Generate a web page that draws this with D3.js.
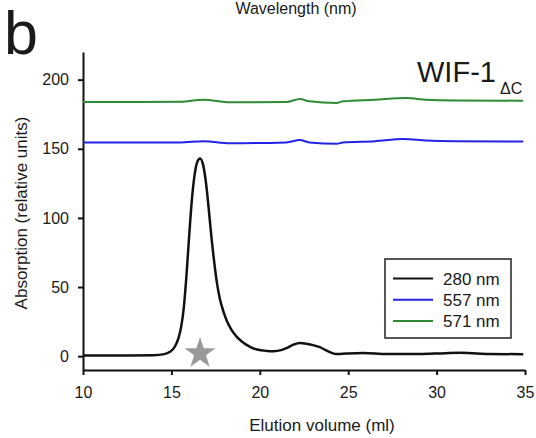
<!DOCTYPE html>
<html><head><meta charset="utf-8">
<script src="https://cdn.jsdelivr.net/npm/d3@7"></script>
<style>
body{margin:0;background:#fff;}
text{font-family:"Liberation Sans",Arial,sans-serif;fill:#1a1a1a;}
</style></head>
<body><svg id="c" width="536" height="438"></svg>
<script>
const xTicks=[10,15,20,25,30,35];
const yTicks=[0,50,100,150,200];
const seriesNames=["280 nm","557 nm","571 nm"];
const seriesColors=["#111111","#2323e6","#2e8b35"];
const abs280=[[10,0.5],[12,0.5],[14,0.7],[14.6,1.5],[14.9,3],[15.2,7],[15.4,13],[15.55,21],[15.7,35],[15.85,58],[16.0,86],[16.15,112],[16.3,130],[16.45,140],[16.62,143],[16.8,138],[16.95,126],[17.1,108],[17.25,88],[17.47,63],[17.6,51],[17.75,41],[17.95,32],[18.15,25],[18.4,19],[18.7,14],[19.0,10.5],[19.45,6.8],[19.85,4.8],[20.4,3.8],[20.8,3.6],[21.2,4.4],[21.5,5.8],[21.9,8.3],[22.27,9.5],[22.7,8.8],[23.0,8.0],[23.4,6.5],[23.7,4.5],[24.0,2.8],[24.35,1.5],[24.9,1.9],[25.85,2.3],[27.2,1.5],[29,1.6],[30.5,2.2],[31.3,2.4],[32.5,1.8],[34.9,1.4]];
const abs557=[[10,154.6],[13,154.6],[15.5,154.6],[16.8,155.5],[18.3,154],[21.5,154.6],[22.27,156.3],[22.8,154.6],[24.35,153.6],[24.7,154.6],[26.5,155.5],[28.1,157],[29.4,156],[31,155.5],[34.9,155.3]];
const abs571=[[10,183.8],[13,183.8],[15.5,184],[16.8,185.5],[18.3,183.6],[21.5,183.8],[22.27,186],[22.8,184.3],[24.35,183.1],[24.7,184.3],[26.5,185.5],[28.3,186.7],[29.4,185.5],[31,185],[34.9,184.8]];
const starMark=[16.62,2];

const svg=d3.select("#c");
const x=d3.scaleLinear().domain([10,35]).range([83,525]);
const y=d3.scaleLinear().domain([-10,220]).range([370,52]);

svg.append("text").attr("x",296).attr("y",14).attr("text-anchor","middle").attr("font-size",16).text("Wavelength (nm)");
svg.append("text").attr("x",4).attr("y",54).attr("font-size",61).text("b");

const xa=svg.append("g").attr("transform","translate(0,370)")
  .call(d3.axisBottom(x).tickValues(xTicks).tickSize(5).tickPadding(12).tickSizeOuter(0));
const ya=svg.append("g").attr("transform","translate(83,0)")
  .call(d3.axisLeft(y).tickValues(yTicks).tickSize(5).tickPadding(9).tickSizeOuter(0));
[xa,ya].forEach(a=>{
  a.selectAll("path,line").attr("stroke","#111").attr("stroke-width",2);
  a.selectAll("text").attr("font-size",16).attr("fill","#1a1a1a").style("font-family","Liberation Sans, Arial, sans-serif");
});

svg.append("text").attr("x",322).attr("y",431).attr("text-anchor","middle").attr("font-size",17).text("Elution volume (ml)");
svg.append("text").attr("transform","translate(27,213) rotate(-90)").attr("text-anchor","middle").attr("font-size",17).text("Absorption (relative units)");

const line=d3.line().x(d=>x(d[0])).y(d=>y(d[1])).curve(d3.curveMonotoneX);
[abs571,abs557,abs280].forEach((s,i)=>{
  const ci=2-i;
  svg.append("path").datum(s).attr("d",line).attr("fill","none")
    .attr("stroke",seriesColors[ci]).attr("stroke-width",ci===0?2.5:2);
});

svg.append("path").attr("d",d3.symbol(d3.symbolStar,300)())
  .attr("transform",`translate(${x(starMark[0])},${y(starMark[1])})`).attr("fill","#999");

const t=svg.append("text").attr("x",417).attr("y",82).attr("font-size",29);
t.append("tspan").text("WIF-1");
t.append("tspan").attr("x",500).attr("y",94).attr("font-size",16).text("ΔC");

const lg=svg.append("g");
lg.append("rect").attr("x",385).attr("y",259).attr("width",126).attr("height",79).attr("fill","#fff").attr("stroke","#222").attr("stroke-width",1.5);
seriesNames.forEach((n,i)=>{
  const yy=278.5+i*21.2;
  lg.append("line").attr("x1",393).attr("x2",433).attr("y1",yy).attr("y2",yy).attr("stroke",seriesColors[i]).attr("stroke-width",2);
  lg.append("text").attr("x",443).attr("y",yy+6).attr("font-size",17).text(n);
});
</script></body></html>
